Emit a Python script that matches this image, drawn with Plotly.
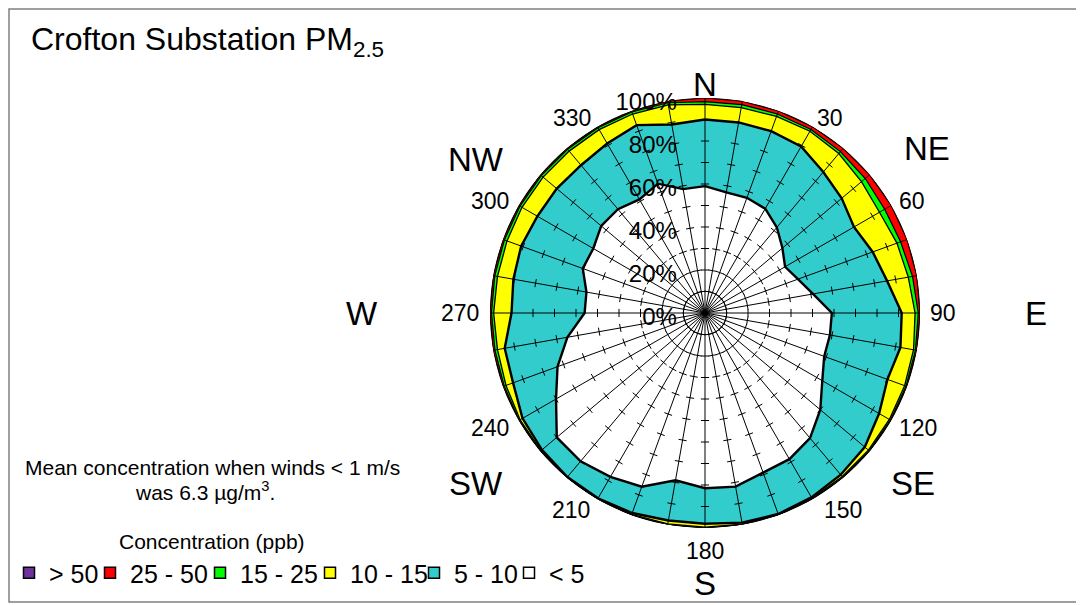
import math
import plotly.graph_objects as go

# ---------------- data ----------------
directions = list(range(0, 360, 10))

# cumulative frequency (%) of concentrations below each threshold, per wind direction
cum_lt5 = [59, 57, 57, 56, 52, 47, 43, 46, 51, 59, 59, 59, 63, 70, 76, 78.5, 79, 82,
           81.5, 79, 86, 88, 90, 90, 80, 73, 65, 56, 56, 60.5, 60, 63, 63, 61, 64, 58.5]
cum_lt10 = [90, 90, 90, 89.4, 85.6, 83, 80, 83, 86, 91.5, 92.3, 90.3, 93.5, 97, 98.2, 99, 99.5, 99,
            98, 98, 99, 99.5, 99.6, 99, 98, 95, 94.6, 90, 90.5, 91, 90, 90, 89.7, 91, 93, 89]
cum_lt15 = [97, 97, 97.3, 97.6, 96.8, 95, 93.7, 95, 96, 97.7, 98.5, 98.8, 99, 99.2, 99.3, 99.5, 99.7, 99.7,
            99.6, 99.6, 99.7, 99.8, 99.8, 99.6, 99.3, 98.5, 98, 98.3, 98, 98, 98.3, 98.3, 98.3, 98.5, 98.5, 98.3]
cum_lt25 = [98.3, 98.4, 98.5, 98.6, 98, 97.3, 96.5, 96.8, 98, 99.2, 99.4, 99.5, 99.6, 99.7, 99.8, 99.8, 99.9, 99.9,
            99.9, 99.9, 99.9, 100, 100, 99.9, 99.8, 99.4, 99.2, 99.3, 99.3, 99.3, 99.4, 99.4, 99.4, 99.5, 99.5, 99.3]
cum_lt50 = [100] * 36
cum_all = [100] * 36

bin_labels = ["> 50", "25 - 50", "15 - 25", "10 - 15", "5 - 10", "< 5"]
bin_colors = ["#7030A0", "#FF0000", "#00FF00", "#FFFF00", "#33CCCC", "#FFFFFF"]
bin_outer = [cum_all, cum_lt50, cum_lt25, cum_lt15, cum_lt10, cum_lt5]
outline_w = [4, 1.2, 1.2, 1.3, 2.4, 2.4]

radial_ticks = [0, 20, 40, 60, 80, 100]
angle_labels = ["30", "60", "90", "120", "150", "180", "210", "240", "270", "300", "330"]
cardinals = ["N", "NE", "E", "SE", "S", "SW", "W", "NW"]

FONT = "Liberation Sans, Arial, sans-serif"
OFF = 8                      # page body margin
W, H = 1084 - OFF, 605 - OFF


def fx(px):
    return (px - OFF) / W


def fy(py):
    return (H - (py - OFF)) / H


fig = go.Figure()

# filled cumulative polygons, outermost first
for lab, col, vals, lw in zip(bin_labels, bin_colors, bin_outer, outline_w):
    fig.add_trace(go.Scatterpolar(
        r=vals + [vals[0]], theta=directions + [360],
        mode="lines", fill="toself", fillcolor=col,
        line=dict(color="black", width=lw),
        showlegend=False, hoverinfo="skip"))

# spokes on top
sr, st = [], []
for a in directions:
    sr += [0, 100, None]
    st += [a, a, None]
fig.add_trace(go.Scatterpolar(r=sr, theta=st, mode="lines",
                              line=dict(color="black", width=1),
                              showlegend=False, hoverinfo="skip"))

# tick marks on each spoke every 10 %
h = 1.9
tr, tt = [], []
for a in directions:
    for p in range(10, 100, 10):
        rr = math.hypot(p, h)
        d = math.degrees(math.atan(h / p))
        tr += [rr, rr, None]
        tt += [a - d, a + d, None]
fig.add_trace(go.Scatterpolar(r=tr, theta=tt, mode="lines",
                              line=dict(color="black", width=1),
                              showlegend=False, hoverinfo="skip"))

# legend entries
legend_widths = [36, 65, 65, 59, 50, 40]
for lab, col, lwid in zip(bin_labels, bin_colors, legend_widths):
    fig.add_trace(go.Scatterpolar(
        r=[None], theta=[None], mode="markers", name=lab, legendwidth=lwid,
        marker=dict(symbol="square", size=11, color=col,
                    line=dict(color="black", width=1.5))))

cx, cy, R = 705 - OFF, 313 - OFF, 215
fig.update_layout(
    width=W, height=H,
    margin=dict(l=0, r=0, t=0, b=0),
    paper_bgcolor="white",
    font=dict(family=FONT, color="black"),
    polar=dict(
        domain=dict(x=[(cx - R) / W, (cx + R) / W],
                    y=[(H - cy - R) / H, (H - cy + R) / H]),
        bgcolor="white",
        angularaxis=dict(rotation=90, direction="clockwise",
                         tickvals=directions, showticklabels=False,
                         showgrid=False, showline=False, ticks=""),
        radialaxis=dict(range=[0, 100], angle=90, side="counterclockwise",
                        tickvals=radial_ticks,
                        ticktext=[f"{v}%" for v in radial_ticks],
                        tickfont=dict(size=24, family=FONT),
                        showgrid=False, showline=False,
                        ticks="outside", ticklen=6, tickcolor="rgba(0,0,0,0)"),
    ),
    legend=dict(orientation="h", x=fx(9), y=fy(573),
                xanchor="left", yanchor="middle",
                font=dict(size=25, family=FONT),
                itemwidth=30, tracegroupgap=0,
                bgcolor="rgba(0,0,0,0)"),
    showlegend=True,
)

# frame
fig.add_shape(type="rect", xref="paper", yref="paper",
              x0=1 / W, x1=fx(1080), y0=fy(602), y1=(H - 1) / H,
              line=dict(color="#808080", width=1.5))

ann = []
ann.append(dict(text="Crofton Substation PM<sub>2.5</sub>", x=fx(29), y=fy(42),
                xanchor="left", yanchor="middle", font=dict(size=32)))
card_pos = [(705, 84), (927, 148), (1036, 313), (913, 483), (705, 583), (476, 483), (362, 313), (476, 160)]
for name, (px, py) in zip(cardinals, card_pos):
    ann.append(dict(text=name, x=fx(px), y=fy(py), xanchor="center", yanchor="middle",
                    font=dict(size=33)))
angle_pos = [(830, 118), (912, 201), (943, 313), (918, 428), (843, 510), (705, 551),
             (571, 510), (490, 428), (460, 313), (490, 201), (572, 118)]
for name, (px, py) in zip(angle_labels, angle_pos):
    ann.append(dict(text=name, x=fx(px), y=fy(py), xanchor="center", yanchor="middle",
                    font=dict(size=23)))
ann.append(dict(text="Mean concentration when winds &lt; 1 m/s", x=fx(212), y=fy(468),
                xanchor="center", yanchor="middle", font=dict(size=21)))
ann.append(dict(text="was 6.3 µg/m<sup>3</sup>.", x=fx(205), y=fy(491),
                xanchor="center", yanchor="middle", font=dict(size=21)))
ann.append(dict(text="Concentration (ppb)", x=fx(212), y=fy(541),
                xanchor="center", yanchor="middle", font=dict(size=21)))
for a in ann:
    a.update(xref="paper", yref="paper", showarrow=False)
fig.update_layout(annotations=ann)

fig.write_html("out.html")
